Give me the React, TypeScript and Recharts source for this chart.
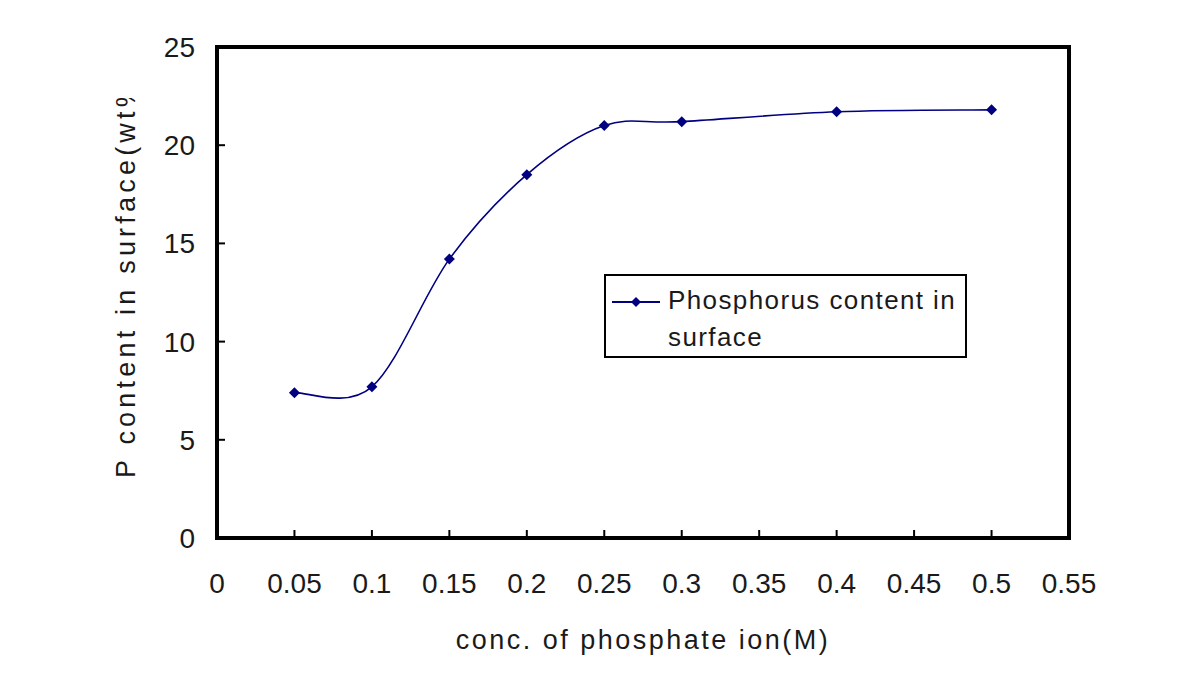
import React from 'react';
import { LineChart, Line, XAxis, YAxis, Legend, ReferenceArea, Label } from 'recharts';

// values
const concentrations = [0.05, 0.1, 0.15, 0.2, 0.25, 0.3, 0.4, 0.5];
const phosphorusContent = [7.4, 7.7, 14.2, 18.5, 21.0, 21.2, 21.7, 21.8];
const xTicks = [0, 0.05, 0.1, 0.15, 0.2, 0.25, 0.3, 0.35, 0.4, 0.45, 0.5, 0.55];
const yTicks = [0, 5, 10, 15, 20, 25];

const seriesName = 'Phosphorus content in surface';
const xTitle = 'conc. of phosphate ion(M)';
const yTitle = 'P content in surface(wt%)';

const data = concentrations.map((c, i) => ({ conc: c, p: phosphorusContent[i] }));

const NAVY = '#000080';
const FONT = '"Liberation Sans", Arial, sans-serif';
const TEXT = '#1a1a1a';
const MARK = 5.5;

// Excel-style smoothed line (uniform Catmull-Rom as cubic beziers)
function excelSmooth(context: any) {
  let pts: number[][] = [];
  return {
    areaStart() {},
    areaEnd() {},
    lineStart() { pts = []; },
    point(x: number, y: number) { pts.push([+x, +y]); },
    lineEnd() {
      if (!pts.length) return;
      context.moveTo(pts[0][0], pts[0][1]);
      for (let i = 0; i < pts.length - 1; i++) {
        const p0 = pts[i - 1] || pts[i];
        const p1 = pts[i];
        const p2 = pts[i + 1];
        const p3 = pts[i + 2] || p2;
        context.bezierCurveTo(
          p1[0] + (p2[0] - p0[0]) / 6, p1[1] + (p2[1] - p0[1]) / 6,
          p2[0] - (p3[0] - p1[0]) / 6, p2[1] - (p3[1] - p1[1]) / 6,
          p2[0], p2[1]
        );
      }
    },
  };
}

const diamondPath = (cx: number, cy: number, s: number) =>
  `M${cx},${cy - s}L${cx + s},${cy}L${cx},${cy + s}L${cx - s},${cy}Z`;

const Diamond = ({ cx, cy }: any) => <path d={diamondPath(cx, cy, MARK)} fill={NAVY} stroke="none" />;

const fmt = (v: number) => String(Math.round(v * 100) / 100);

const XTick = ({ x, y, payload }: any) => (
  <g>
    <line x1={x} y1={y} x2={x} y2={y - 8} stroke="#000" strokeWidth={2} />
    <text x={x} y={y + 55} textAnchor="middle" fontSize={28} fontFamily={FONT} fill={TEXT}>
      {fmt(payload.value)}
    </text>
  </g>
);

const YTick = ({ x, y, payload }: any) => (
  <g>
    <line x1={x} y1={y} x2={x + 8} y2={y} stroke="#000" strokeWidth={2} />
    <text x={x - 22} y={y + 10} textAnchor="end" fontSize={28} fontFamily={FONT} fill={TEXT}>
      {fmt(payload.value)}
    </text>
  </g>
);

const LegendBox = ({ payload }: any) => {
  const name = payload && payload[0] ? payload[0].value : seriesName;
  const words = String(name).split(' ');
  return (
    <div
      style={{
        width: 359,
        height: 80,
        border: '2px solid #000',
        background: '#fff',
        display: 'flex',
        fontFamily: FONT,
        fontSize: 26,
        letterSpacing: 1.4,
        color: TEXT,
        lineHeight: '37px',
        boxSizing: 'content-box',
        textAlign: 'left',
      }}
    >
      <svg width={62} height={40} style={{ flex: 'none' }}>
        <line x1={6} y1={26} x2={54} y2={26} stroke={NAVY} strokeWidth={2} />
        <path d={diamondPath(30, 26, 5)} fill={NAVY} />
      </svg>
      <div style={{ paddingTop: 6 }}>
        <div>{words.slice(0, -1).join(' ')}</div>
        <div>{words[words.length - 1]}</div>
      </div>
    </div>
  );
};

export default function App() {
  return (
    <div style={{ position: 'absolute', left: 0, top: 0, width: 1185, height: 683, background: '#fff' }}>
      <LineChart width={1185} height={683} data={data} margin={{ top: 47, right: 116, bottom: 0, left: 0 }}>
        <XAxis
          dataKey="conc"
          type="number"
          domain={[0, 0.55]}
          ticks={xTicks}
          interval={0}
          height={145}
          axisLine={false}
          tickLine={false}
          tickSize={0}
          tickMargin={0}
          tick={<XTick />}
        >
          <Label
            content={({ viewBox }: any) => (
              <text
                x={viewBox.x + viewBox.width / 2}
                y={viewBox.y + 111}
                textAnchor="middle"
                fontSize={27}
                letterSpacing={2.5}
                fontFamily={FONT}
                fill={TEXT}
              >
                {xTitle}
              </text>
            )}
          />
        </XAxis>
        <YAxis
          type="number"
          domain={[0, 25]}
          ticks={yTicks}
          interval={0}
          width={217}
          axisLine={false}
          tickLine={false}
          tickSize={0}
          tickMargin={0}
          tick={<YTick />}
        >
          <Label
            content={({ viewBox }: any) => {
              const x = viewBox.x + 135;
              const y = viewBox.y + viewBox.height - 60;
              return (
                <g>
                  <defs>
                    <clipPath id="ytitle-clip">
                      <rect x={0} y={98} width={217} height={500} />
                    </clipPath>
                  </defs>
                  <g clipPath="url(#ytitle-clip)">
                    <text
                      x={x}
                      y={y}
                      transform={`rotate(-90 ${x} ${y})`}
                      textAnchor="start"
                      fontSize={27}
                      letterSpacing={4.2}
                      fontFamily={FONT}
                      fill={TEXT}
                    >
                      {yTitle}
                    </text>
                  </g>
                </g>
              );
            }}
          />
        </YAxis>
        <ReferenceArea
          x1={0}
          x2={0.55}
          y1={0}
          y2={25}
          fill="none"
          stroke="#000"
          strokeWidth={4}
          ifOverflow="visible"
        />
        <Legend
          layout="vertical"
          verticalAlign="middle"
          align="center"
          wrapperStyle={{ position: 'absolute', left: 604, top: 274, width: 'auto' }}
          content={<LegendBox />}
        />
        <Line
          type={excelSmooth as any}
          dataKey="p"
          name={seriesName}
          stroke={NAVY}
          strokeWidth={1.6}
          dot={<Diamond />}
          activeDot={false}
          isAnimationActive={false}
        />
      </LineChart>
    </div>
  );
}
